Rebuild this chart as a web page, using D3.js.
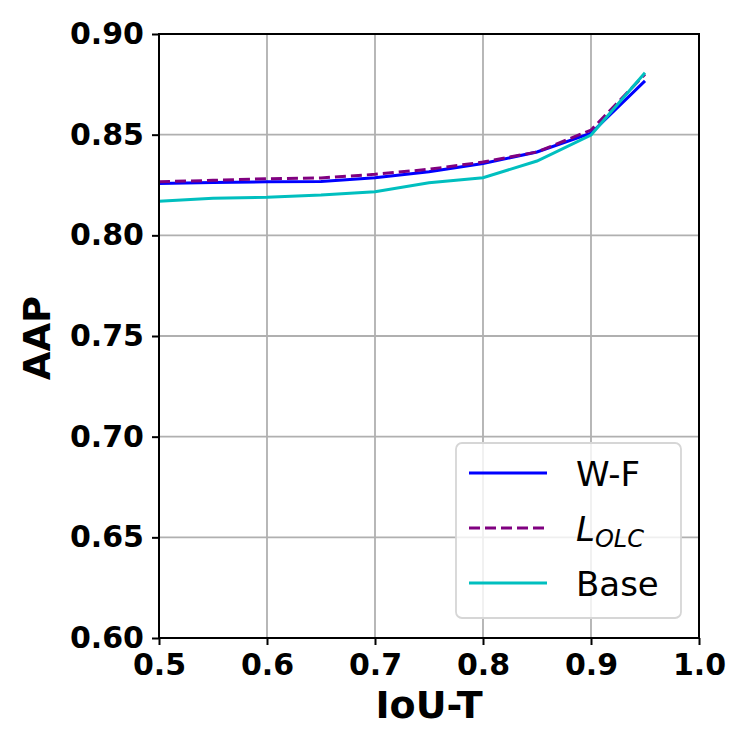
<!DOCTYPE html>
<html>
<head>
<meta charset="utf-8">
<script src="https://cdn.jsdelivr.net/npm/d3@7"></script>
<style>
  body { margin: 0; background: #fff; }
  svg { display: block; font-family: "DejaVu Sans", sans-serif; }
</style>
</head>
<body>
<svg id="svg" width="750" height="750"></svg>
<script>
// IoU thresholds
const iouT = [0.5, 0.55, 0.6, 0.65, 0.7, 0.75, 0.8, 0.85, 0.9, 0.95];
// AAP per method
const wfValues   = [0.8258, 0.8263, 0.8266, 0.8268, 0.8286, 0.8316, 0.8357, 0.8414, 0.8507, 0.8767];
const lolcValues = [0.8266, 0.8273, 0.8281, 0.8285, 0.8303, 0.8328, 0.8364, 0.8414, 0.8523, 0.8800];
const baseValues = [0.8169, 0.8184, 0.8189, 0.8200, 0.8217, 0.8261, 0.8286, 0.8369, 0.8498, 0.8808];

const xTicks = [0.5, 0.6, 0.7, 0.8, 0.9, 1.0];
const yTicks = [0.60, 0.65, 0.70, 0.75, 0.80, 0.85, 0.90];

const svg = d3.select("#svg");

const plotLeft = 159, plotRight = 699, plotTop = 34, plotBottom = 638;

const x = d3.scaleLinear().domain([0.5, 1.0]).range([plotLeft, plotRight]);
const y = d3.scaleLinear().domain([0.6, 0.9]).range([plotBottom, plotTop]);

// grid
const grid = svg.append("g");
grid.selectAll(".gx").data(xTicks).enter().append("line")
    .attr("x1", d => x(d)).attr("x2", d => x(d))
    .attr("y1", plotTop).attr("y2", plotBottom)
    .attr("stroke", "#b0b0b0").attr("stroke-width", 1.8);
grid.selectAll(".gy").data(yTicks).enter().append("line")
    .attr("x1", plotLeft).attr("x2", plotRight)
    .attr("y1", d => y(d)).attr("y2", d => y(d))
    .attr("stroke", "#b0b0b0").attr("stroke-width", 1.8);

// series
const series = [
    { name: "W-F", values: wfValues, color: "#0000ff", dash: null },
    { name: "LOLC", values: lolcValues, color: "#800080", dash: "11,5" },
    { name: "Base", values: baseValues, color: "#00bfbf", dash: null }
];

const line = d3.line()
    .x((d, i) => x(iouT[i]))
    .y(d => y(d));

svg.append("g").selectAll("path").data(series).enter().append("path")
    .attr("d", d => line(d.values))
    .attr("fill", "none")
    .attr("stroke", d => d.color)
    .attr("stroke-width", 3)
    .attr("stroke-dasharray", d => d.dash);

// axes
const xAxis = svg.append("g")
    .attr("transform", `translate(0,${plotBottom})`)
    .call(d3.axisBottom(x).tickValues(xTicks).tickFormat(d3.format(".1f")).tickSize(7).tickPadding(9));
const yAxis = svg.append("g")
    .attr("transform", `translate(${plotLeft},0)`)
    .call(d3.axisLeft(y).tickValues(yTicks).tickFormat(d3.format(".2f")).tickSize(7).tickPadding(8));

[xAxis, yAxis].forEach(a => {
    a.select(".domain").remove();
    a.selectAll(".tick line").attr("stroke", "#000").attr("stroke-width", 2);
    a.selectAll(".tick text")
        .attr("fill", "#000")
        .style("font-family", "DejaVu Sans")
        .style("font-weight", "bold")
        .style("font-size", "30px");
});

// frame
svg.append("rect")
    .attr("x", plotLeft).attr("y", plotTop)
    .attr("width", plotRight - plotLeft).attr("height", plotBottom - plotTop)
    .attr("fill", "none").attr("stroke", "#000").attr("stroke-width", 2);

// axis titles
svg.append("text")
    .attr("x", (plotLeft + plotRight) / 2).attr("y", 718)
    .attr("text-anchor", "middle")
    .style("font-size", "38px").style("font-weight", "bold")
    .text("IoU-T");

svg.append("text")
    .attr("transform", `translate(50,${(plotTop + plotBottom) / 2 + 2}) rotate(-90)`)
    .attr("text-anchor", "middle")
    .style("font-size", "37px").style("font-weight", "bold")
    .text("AAP");

// legend
const legend = svg.append("g");
legend.append("rect")
    .attr("x", 456).attr("y", 443)
    .attr("width", 225).attr("height", 175)
    .attr("rx", 6)
    .attr("fill", "#fff").attr("fill-opacity", 0.8)
    .attr("stroke", "#d6d6d6").attr("stroke-width", 1.8);

const rows = legend.selectAll(".row").data(series).enter().append("g")
    .attr("transform", (d, i) => `translate(0,${473 + i * 55})`);

rows.append("line")
    .attr("x1", 469).attr("x2", 547)
    .attr("y1", 0).attr("y2", 0)
    .attr("stroke", d => d.color)
    .attr("stroke-width", 3)
    .attr("stroke-dasharray", d => d.dash);

rows.append("text")
    .attr("x", 576).attr("y", 13)
    .style("font-size", "34px")
    .each(function(d) {
        const t = d3.select(this);
        if (d.name === "LOLC") {
            t.append("tspan").style("font-style", "italic").text("L");
            t.append("tspan").style("font-style", "italic")
                .style("font-size", "24px").attr("dy", 6).text("OLC");
        } else {
            t.text(d.name);
        }
    });
</script>
</body>
</html>
